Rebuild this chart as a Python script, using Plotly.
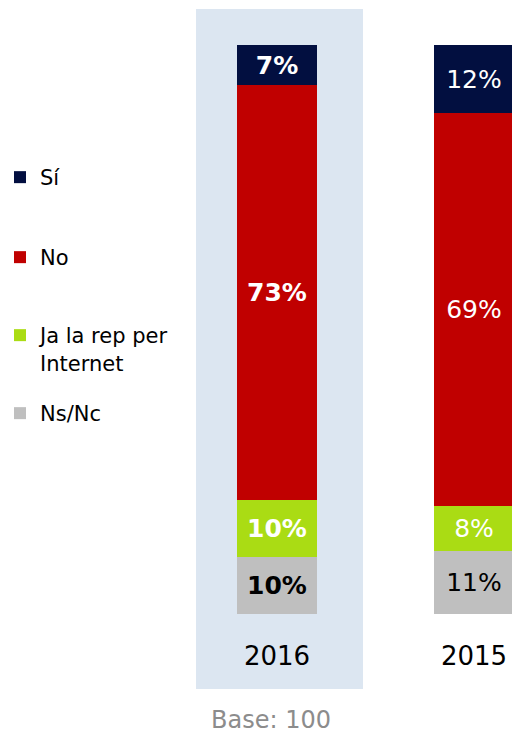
import plotly.graph_objects as go

# Survey results, share of answers (%) per year
years = ["2016", "2015"]
series_names = ["Ns/Nc", "Ja la rep per<br>Internet", "No", "Sí"]
ns_nc = [10, 11]
ja_internet = [10, 8]
no_vals = [73, 69]
si_vals = [7, 12]

series_values = [ns_nc, ja_internet, no_vals, si_vals]
colors = ["#BFBFBF", "#AADC14", "#C00000", "#020F40"]
text_colors = ["#000000", "#FFFFFF", "#FFFFFF", "#FFFFFF"]
legend_ids = ["legend4", "legend3", "legend2", "legend"]
legend_y_px = [413, 335, 257, 177]  # first-line centre of each legend entry

W, H = 512, 736
FONT = "DejaVu Sans"
x_pos = [0, 1]

fig = go.Figure()
for name, vals, col, tcol, lid in zip(series_names, series_values, colors, text_colors, legend_ids):
    labels = [f"<b>{v}%</b>" if i == 0 else f"{v}%" for i, v in enumerate(vals)]
    fig.add_trace(go.Bar(
        x=x_pos, y=vals, name=name, width=0.406,
        marker=dict(color=col, line=dict(width=0)),
        text=labels, textposition="inside", insidetextanchor="middle",
        textangle=0, constraintext="none",
        textfont=dict(family=FONT, size=25, color=tcol),
        legend=lid, hoverinfo="skip",
    ))

layout_legends = {}
for lid, ypx in zip(legend_ids, legend_y_px):
    layout_legends[lid] = dict(
        x=0.0, xref="container", xanchor="left",
        y=1 - (ypx - 20) / H, yref="container", yanchor="top",
        font=dict(family=FONT, size=21, color="#000000"),
        bgcolor="rgba(0,0,0,0)", borderwidth=0, valign="top",
        itemclick=False, itemdoubleclick=False,
    )

# pixel geometry of the plot area: bars go from y=614 (0%) to y=45 (100%)
top_px, bottom_px = 45, 614
plot_h = bottom_px - top_px
def paper_y(px):
    return (bottom_px - px) / plot_h

fig.update_layout(
    width=W, height=H,
    margin=dict(l=0, r=0, t=top_px, b=H - bottom_px, autoexpand=False),
    paper_bgcolor="white", plot_bgcolor="rgba(0,0,0,0)",
    barmode="stack", bargap=0,
    showlegend=True,
    xaxis=dict(
        range=[-277 / 197, (512 - 277) / 197],
        tickvals=x_pos, ticktext=years,
        tickfont=dict(family=FONT, size=26, color="#000000"),
        ticks="", showline=False, showgrid=False, zeroline=False,
        ticklabelstandoff=24, automargin=False,
    ),
    yaxis=dict(range=[0, 100], visible=False, showgrid=False, zeroline=False),
    shapes=[dict(
        type="rect", layer="below", xref="x", yref="paper",
        x0=(196 - 277) / 197, x1=(363 - 277) / 197,
        y0=paper_y(689), y1=paper_y(9),
        fillcolor="#DCE6F1", line=dict(width=0),
    )],
    annotations=[dict(
        text="Base: 100", xref="paper", yref="paper",
        x=271 / W, y=paper_y(720), xanchor="center", yanchor="middle",
        showarrow=False, font=dict(family=FONT, size=24, color="#8C8C8C"),
    )],
    **layout_legends,
)

fig.write_html("out.html")
